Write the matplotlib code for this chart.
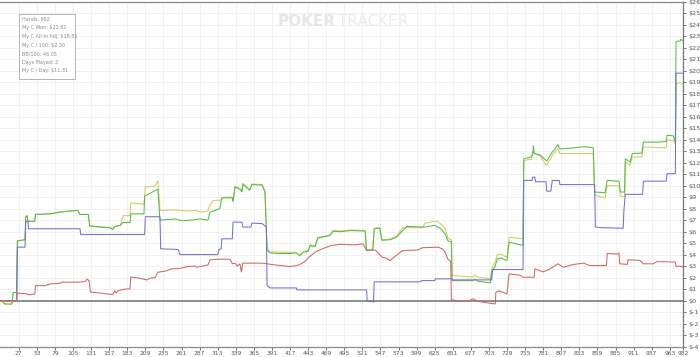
import matplotlib
matplotlib.use("Agg")
import matplotlib.pyplot as plt
from matplotlib.patches import Rectangle

# ---------------- data (hand number, $) ----------------
green_pts = [(0,0),(4,-0.1),(7,-0.3),(17,-0.3),(19,0.7),(24,0.7),(25,5.2),(36,5.3),(37,7.3),(39,7.4),
    (40,6.9),(50,6.9),(51,7.5),(72,7.55),(86,7.7),(93,7.75),(101,7.8),(112,7.85),(115,7.5),(127,7.5),
    (129,6.5),(144,6.4),(158,6.35),(162,6.2),(165,6.45),(173,6.55),(177,6.8),(187,6.8),(188,7.55),(207,7.55),
    (208,9.1),(227,9.7),(230,7.0),(240,7.05),(252,7.1),(262,6.95),(273,7.0),(288,7.1),(299,7.0),(302,7.7),
    (316,8.0),(319,8.95),(334,8.95),(335,8.6),(338,9.9),(345,9.7),(348,9.45),(349,10.15),(359,9.6),(362,10.1),
    (377,10.05),(381,9.45),(384,4.4),(388,4.15),(400,4.1),(417,4.1),(426,4.15),(431,3.9),(436,4.2),(443,4.3),
    (446,4.8),(453,4.7),(457,5.45),(474,5.65),(479,6.05),(489,6.0),(505,6.1),(525,6.05),(527,4.4),(536,4.4),
    (538,6.25),(546,6.3),(549,5.25),(561,5.3),(570,5.5),(579,6.1),(585,6.45),(611,6.4),(625,6.55),(633,6.3),
    (640,5.8),(644,5.2),(649,5.1),(650,1.74),(680,1.74),(683,1.86),(686,1.7),(705,1.54),(707,2.47),(712,3.0),
    (715,3.63),(720,3.7),(729,3.5),(732,5.08),(752,4.8),(753,12.35),(764,12.5),(766,12.8),(767,13.5),(768,12.8),
    (776,12.7),(784,12.25),(786,12.15),(794,12.93),(798,13.2),(802,13.6),(805,13.2),(825,13.3),(840,13.4),(853,13.3),
    (855,9.45),(870,9.4),(873,10.46),(890,10.4),(892,9.45),(898,9.45),(899,12.35),(906,12.06),(909,12.8),(923,12.85),
    (925,13.8),(945,13.8),(958,13.85),(959,14.39),(968,14.35),(971,13.8),(972,22.55),(975,22.6),(978,22.6),(979,22.75),
    (982,22.61)]

yellow_pts = [(0,0),(4,-0.1),(7,-0.3),(17,-0.3),(19,0.7),(24,0.7),(25,5.2),(36,5.3),(37,7.3),(39,7.4),
    (40,6.9),(50,6.9),(51,7.5),(72,7.55),(86,7.7),(93,7.75),(101,7.8),(112,7.85),(115,7.5),(127,7.5),
    (129,6.5),(144,6.4),(158,6.35),(162,6.2),(165,6.45),(173,6.55),(177,7.4),(187,7.4),(188,8.5),(207,8.4),
    (209,9.9),(223,9.95),(227,10.45),(230,7.85),(250,7.9),(270,7.8),(280,7.85),(290,7.7),(299,7.8),(300,8.1),
    (306,8.7),(318,8.75),(321,9.0),(334,9.0),(335,8.65),(338,9.95),(345,9.75),(348,9.5),(349,10.2),(359,9.65),
    (362,10.15),(377,10.1),(381,9.5),(384,4.45),(388,4.25),(417,4.2),(426,4.2),(431,3.95),(436,4.25),(443,4.35),
    (446,4.85),(453,4.75),(457,5.5),(474,5.7),(479,6.1),(489,6.05),(505,6.15),(525,6.1),(527,4.4),(536,4.4),
    (538,6.3),(546,6.35),(549,5.3),(561,5.35),(570,5.6),(579,6.34),(585,6.35),(608,6.35),(611,6.74),(628,6.92),
    (633,6.7),(640,6.3),(644,5.4),(649,5.3),(650,2.18),(680,2.05),(683,2.24),(686,2.05),(705,1.89),(707,2.76),
    (712,3.4),(715,4.0),(720,4.05),(729,3.78),(732,5.52),(752,5.38),(753,12.2),(764,12.3),(766,12.93),(770,12.8),
    (776,12.6),(784,11.9),(786,11.77),(794,12.64),(802,13.22),(805,12.8),(853,12.8),(855,9.16),(870,8.95),(873,10.0),
    (890,10.0),(892,9.07),(898,9.07),(899,12.06),(906,11.77),(909,12.5),(923,12.5),(925,13.37),(958,13.3),(959,13.95),
    (968,13.95),(971,13.6),(972,18.85),(978,19.0),(982,18.81)]

blue_pts = [(0,0),(24,0),(25,4.65),(36,4.65),(37,6.9),(40,6.9),(41,6.25),(115,6.25),(116,5.75),(208,5.75),
    (209,7.3),(230,7.3),(231,4.5),(256,4.45),(259,4.0),(313,4.0),(315,4.45),(318,4.5),(319,5.38),(334,5.38),
    (335,6.83),(348,6.83),(349,6.4),(361,6.4),(362,6.75),(377,6.7),(381,6.5),(383,6.4),(384,1.3),(388,1.1),
    (426,1.1),(427,0.93),(527,0.93),(528,-0.06),(536,-0.06),(537,-0.15),(538,1.63),(604,1.63),(607,1.74),(625,1.74),
    (626,1.89),(650,1.89),(651,1.8),(707,1.8),(708,2.7),(752,2.7),(753,10.46),(765,10.46),(766,10.75),(769,10.75),
    (770,10.35),(785,10.35),(786,9.53),(792,9.53),(794,10.46),(804,10.46),(805,10.1),(855,10.1),(856,6.4),(863,6.35),
    (896,6.3),(897,7.8),(899,9.25),(924,9.25),(925,10.4),(958,10.4),(959,11.05),(971,11.05),(972,19.8),(982,19.8)]

red_pts = [(0,0),(24,0),(25,0.65),(36,0.6),(43,0.5),(47,0.55),(50,0.55),(51,1.3),(65,1.3),(72,1.45),
    (86,1.5),(89,1.6),(112,1.6),(122,1.65),(125,1.85),(128,1.75),(130,0.75),(144,0.65),(158,0.55),(162,0.5),
    (165,0.85),(167,0.65),(170,0.87),(180,1.0),(187,1.02),(188,2.05),(200,1.95),(211,1.8),(216,1.95),(223,2.0),
    (227,2.47),(237,2.55),(247,2.76),(259,2.8),(269,2.96),(280,3.0),(283,2.9),(288,2.96),(299,3.1),(302,3.55),
    (316,3.6),(331,3.6),(334,3.2),(338,3.25),(341,3.0),(345,3.2),(347,2.47),(349,3.26),(377,3.26),(391,3.14),
    (403,3.05),(417,2.96),(427,3.05),(431,3.14),(439,3.43),(443,3.72),(453,4.21),(463,4.5),(477,4.8),(489,4.9),
    (510,4.85),(522,4.94),(527,4.36),(540,4.4),(549,3.78),(555,3.7),(561,3.49),(565,3.7),(579,4.36),(600,4.4),
    (607,4.6),(630,4.65),(636,4.5),(640,4.2),(644,3.6),(648,3.4),(649,0.06),(665,-0.05),(675,0.0),(680,0.15),
    (685,0.0),(690,-0.1),(712,-0.3),(713,0.73),(718,0.85),(729,0.58),(732,2.33),(748,2.2),(752,2.03),(768,2.03),
    (769,2.76),(781,2.5),(791,2.76),(802,3.2),(810,2.9),(824,3.14),(839,3.26),(848,3.05),(872,3.05),(873,4.1),
    (888,4.05),(890,4.15),(891,3.2),(902,3.15),(903,3.55),(920,3.5),(925,3.2),(939,3.2),(945,3.4),(971,3.35),
    (972,2.96),(976,3.0),(982,2.95)]

x_ticks = [27, 53, 79, 105, 131, 157, 183, 209, 235, 261, 287, 313, 339, 365, 391, 417, 443, 469, 495,
           521, 547, 573, 599, 625, 651, 677, 703, 729, 755, 781, 807, 833, 859, 885, 911, 937, 963, 982]
y_ticks = list(range(-4, 27))
y_labels = ["$%d" % v for v in y_ticks]

info_lines = ["Hands: 982", "My C Won: $22.61", "My C All-In Adj: $18.81", "My C / 100: $2.30",
              "BB/100: 46.05", "Days Played: 2", "My C / Day: $11.31"]

# ---------------- figure ----------------
W, H = 700, 357
fig = plt.figure(figsize=(W / 100, H / 100), dpi=100)
fig.patch.set_facecolor("white")
ax = fig.add_axes([0, 1 - 346.5 / H, 683 / W, 344.5 / H])
ax.set_facecolor("white")

ax.set_xlim(0, 982)
ax.set_ylim(-4, 26)

ax.set_xticks(x_ticks)
ax.set_xticklabels([str(t) for t in x_ticks])
ax.set_yticks(y_ticks)
ax.set_yticklabels(y_labels)
ax.yaxis.tick_right()
ax.tick_params(axis="x", labelsize=4.3, colors="#555555", length=2, width=0.6, pad=1.2)
ax.tick_params(axis="y", labelsize=4.6, colors="#555555", length=2.5, width=0.6, pad=1.2)

ax.grid(True, color="#efefef", linewidth=0.6)
ax.set_axisbelow(True)

ax.spines["left"].set_visible(False)
for s in ("top", "bottom"):
    ax.spines[s].set_color("#8a8a8a")
    ax.spines[s].set_linewidth(0.9)
ax.spines["right"].set_color("#777777")
ax.spines["right"].set_linewidth(0.9)

ax.axhline(0, color="#707070", linewidth=1.1, zorder=1)

def draw(pts, color, z):
    xs = [p[0] for p in pts]
    ys = [p[1] for p in pts]
    ax.plot(xs, ys, color=color, linewidth=0.75, zorder=z, solid_joinstyle="miter")

draw(yellow_pts, "#cfcc5e", 3)
draw(green_pts, "#55bb44", 4)
draw(blue_pts, "#6f6fd8", 5)
draw(red_pts, "#d06464", 6)

# watermark
fig.text(336 / W, 1 - 22 / H, "POKER", fontsize=11, fontweight="bold", color="#e6e6e6",
         ha="right", va="center")
fig.text(338 / W, 1 - 22 / H, "TRACKER", fontsize=11, color="#ebebeb",
         ha="left", va="center")

# info box
fig.add_artist(Rectangle((19 / W, 1 - 79 / H), 56 / W, 65 / H, transform=fig.transFigure,
                         facecolor="white", edgecolor="#b5b5b5", linewidth=0.7, zorder=10))
for i, line in enumerate(info_lines):
    fig.text(21.7 / W, 1 - (19.3 + 8.6 * i) / H, line, fontsize=3.5, color="#8a8a8a",
             ha="left", va="center", zorder=11)

fig.savefig("out.png", dpi=100, facecolor="white")
